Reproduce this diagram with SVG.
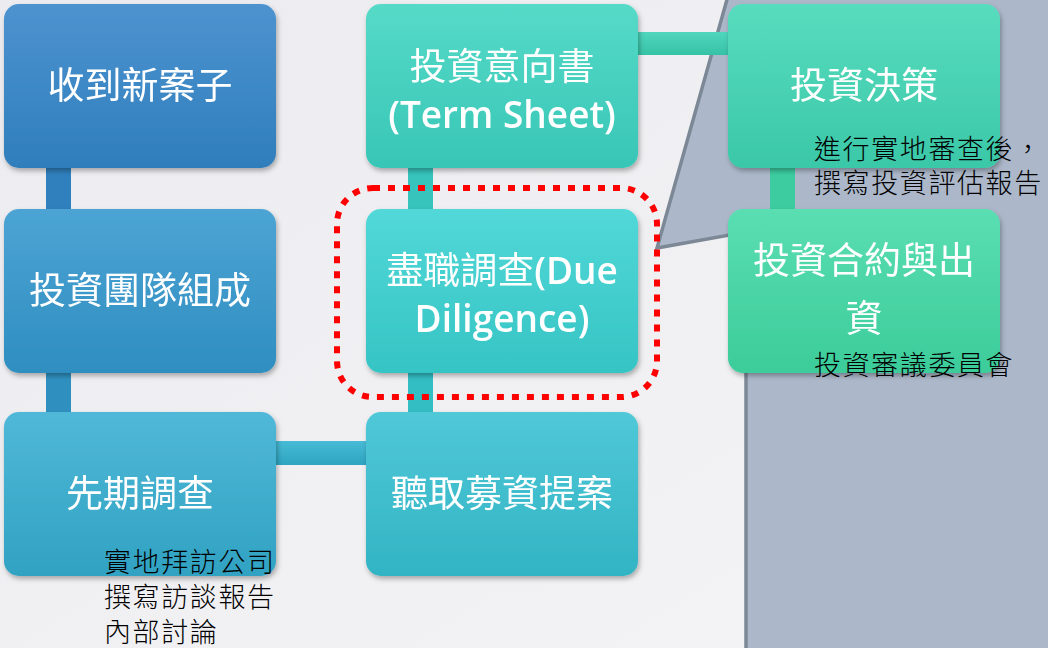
<svg xmlns="http://www.w3.org/2000/svg" width="1048" height="648" viewBox="0 0 1048 648">
<defs>
<linearGradient id="bg" x1="0" y1="0" x2="1" y2="1"><stop offset="0" stop-color="#ececf0"/><stop offset="1" stop-color="#f4f4f6"/></linearGradient>
<linearGradient id="g1" x1="0" y1="0" x2="0" y2="1"><stop offset="0" stop-color="#4d93d0"/><stop offset="1" stop-color="#2f7ebc"/></linearGradient>
<linearGradient id="g2" x1="0" y1="0" x2="0" y2="1"><stop offset="0" stop-color="#4ca4d4"/><stop offset="1" stop-color="#2f8ec0"/></linearGradient>
<linearGradient id="g3" x1="0" y1="0" x2="0" y2="1"><stop offset="0" stop-color="#50b8d8"/><stop offset="1" stop-color="#31a2c2"/></linearGradient>
<linearGradient id="g4" x1="0" y1="0" x2="0" y2="1"><stop offset="0" stop-color="#50c8d8"/><stop offset="1" stop-color="#32b4c4"/></linearGradient>
<linearGradient id="g5" x1="0" y1="0" x2="0" y2="1"><stop offset="0" stop-color="#52d8d8"/><stop offset="1" stop-color="#36c4c4"/></linearGradient>
<linearGradient id="g6" x1="0" y1="0" x2="0" y2="1"><stop offset="0" stop-color="#56dac8"/><stop offset="1" stop-color="#38c6b6"/></linearGradient>
<linearGradient id="g7" x1="0" y1="0" x2="0" y2="1"><stop offset="0" stop-color="#58dcbe"/><stop offset="1" stop-color="#3ac8a8"/></linearGradient>
<linearGradient id="g8" x1="0" y1="0" x2="0" y2="1"><stop offset="0" stop-color="#5adeb2"/><stop offset="1" stop-color="#3ccc9a"/></linearGradient>
<linearGradient id="h3" x1="0" y1="0" x2="0" y2="1"><stop offset="0" stop-color="#48bbd6"/><stop offset="1" stop-color="#2ea4c0"/></linearGradient>
<linearGradient id="h6" x1="0" y1="0" x2="0" y2="1"><stop offset="0" stop-color="#50d6bc"/><stop offset="1" stop-color="#36c2a6"/></linearGradient>
<filter id="sh" x="-10%" y="-10%" width="125%" height="130%"><feDropShadow dx="1.5" dy="3" stdDeviation="2.5" flood-color="#000" flood-opacity="0.3"/></filter>
</defs>
<style>
.box{filter:url(#sh)}
.t{font-family:"Open Sans","Noto Sans CJK TC",sans-serif;font-size:37px;font-weight:400;fill:#fff;text-anchor:middle}
.l{font-weight:600}
.n{font-family:"Noto Sans CJK TC",sans-serif;font-size:27px;font-weight:300;fill:#000;letter-spacing:1.6px}
</style>
<rect width="1048" height="648" fill="url(#bg)"/>
<polygon id="panel" points="728,-4 657,248 746,232 746,652 1052,652 1052,-4" fill="#acb8ca" stroke="#7d8896" stroke-width="3.5" stroke-linejoin="miter"/>
<g id="connectors">
<rect x="46" y="160" width="25" height="56" fill="#2f80bd"/>
<rect x="46" y="365" width="25" height="54" fill="#2f90c0"/>
<rect x="270" y="441" width="102" height="24" fill="url(#h3)"/>
<rect x="408" y="365" width="25" height="54" fill="#33bec4"/>
<rect x="408" y="160" width="25" height="56" fill="#36c4bc"/>
<rect x="632" y="32" width="102" height="23" fill="url(#h6)"/>
<rect x="770" y="160" width="25" height="56" fill="#3ccca0"/>
</g>
<g id="n1" class="box"><rect x="4" y="4" width="272" height="164" rx="15" fill="url(#g1)"/><text class="t" x="140" y="99">收到新案子</text></g>
<g id="n2" class="box"><rect x="4" y="209" width="272" height="164" rx="15" fill="url(#g2)"/><text class="t" x="140" y="304">投資團隊組成</text></g>
<g id="n3" class="box"><rect x="4" y="412" width="272" height="164" rx="15" fill="url(#g3)"/><text class="t" x="140" y="507">先期調查</text></g>
<g id="n4" class="box"><rect x="366" y="412" width="272" height="164" rx="15" fill="url(#g4)"/><text class="t" x="502" y="507">聽取募資提案</text></g>
<g id="n5" class="box"><rect x="366" y="209" width="272" height="164" rx="15" fill="url(#g5)"/><text class="t" x="502" y="284">盡職調查<tspan class="l">(Due</tspan></text><text class="t l" x="502" y="332">Diligence)</text></g>
<g id="n6" class="box"><rect x="366" y="4" width="272" height="164" rx="15" fill="url(#g6)"/><text class="t" x="502" y="80">投資意向書</text><text class="t l" x="502" y="128">(Term Sheet)</text></g>
<g id="n7" class="box"><rect x="728" y="4" width="272" height="164" rx="15" fill="url(#g7)"/><text class="t" x="864" y="99">投資決策</text></g>
<g id="n8" class="box"><rect x="728" y="209" width="272" height="164" rx="15" fill="url(#g8)"/><text class="t" x="864" y="274">投資合約與出</text><text class="t" x="864" y="332">資</text></g>
<rect id="highlight" x="337" y="188" width="320" height="209" rx="36" fill="none" stroke="#ff0000" stroke-width="6" stroke-dasharray="7 8"/>
<g id="notes">
<text class="n" x="814" y="159">進行實地審查後，</text>
<text class="n" x="814" y="193">撰寫投資評估報告</text>
<text class="n" x="814" y="375">投資審議委員會</text>
<text class="n" x="104" y="572">實地拜訪公司</text>
<text class="n" x="104" y="607">撰寫訪談報告</text>
<text class="n" x="104" y="642">內部討論</text>
</g>
</svg>
